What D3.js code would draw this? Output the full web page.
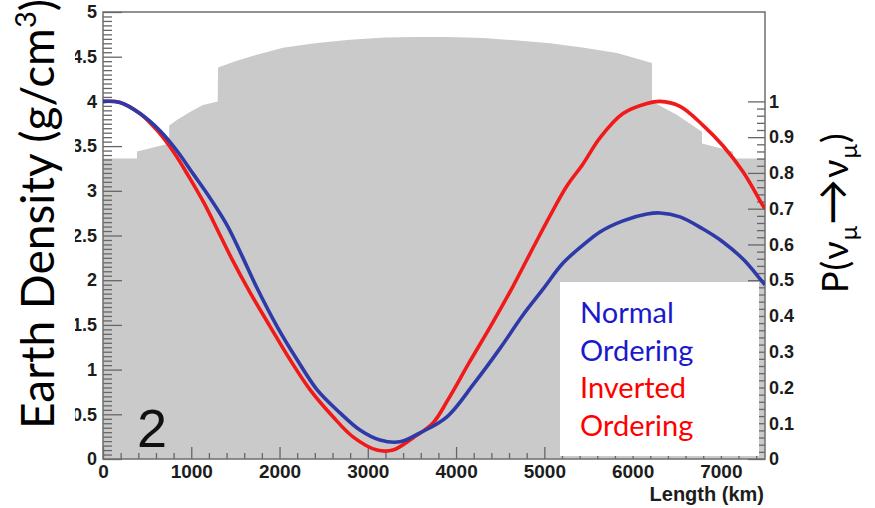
<!DOCTYPE html>
<html>
<head>
<meta charset="utf-8">
<script src="https://cdn.jsdelivr.net/npm/d3@7"></script>
<style>
  html, body { margin: 0; padding: 0; background: #fff; }
  svg { display: block; }
</style>
</head>
<body>
<svg id="chart" width="875" height="508"></svg>
<script>
// ---------------- DATA ----------------
// Earth density profile along the baseline (km, g/cm^3)
const densityKm  = [0, 385, 385, 750, 750, 850, 1000, 1133, 1300, 1303, 1500, 1665, 2039, 2400, 2798, 3200, 3557, 3900, 4305, 4700, 5064, 5450, 5823, 6220, 6220, 6500, 6786, 6786, 7137, 7137, 7500];
const densityVal = [3.36, 3.36, 3.44, 3.53, 3.73, 3.80, 3.89, 3.96, 4.00, 4.38, 4.45, 4.50, 4.60, 4.65, 4.69, 4.715, 4.72, 4.72, 4.71, 4.68, 4.65, 4.60, 4.54, 4.43, 4.00, 3.85, 3.66, 3.53, 3.44, 3.36, 3.36];

// Survival probability, Normal Ordering
const normalKm = [0, 193, 419, 646, 838, 1020, 1212, 1405, 1575, 1745, 1971, 2198, 2424, 2685, 2911, 3138, 3365, 3591, 3897, 4200, 4500, 4750, 4985, 5212, 5438, 5630, 5891, 6163, 6310, 6537, 6798, 7024, 7251, 7466, 7500];
const normalP  = [1.000, 0.997, 0.966, 0.918, 0.862, 0.798, 0.730, 0.654, 0.568, 0.478, 0.371, 0.278, 0.194, 0.129, 0.081, 0.053, 0.048, 0.073, 0.118, 0.210, 0.310, 0.400, 0.475, 0.548, 0.598, 0.635, 0.666, 0.685, 0.688, 0.677, 0.643, 0.607, 0.559, 0.497, 0.487];

// Survival probability, Inverted Ordering
const invertedKm = [0, 193, 419, 623, 804, 974, 1144, 1314, 1461, 1665, 1892, 2118, 2345, 2606, 2832, 3104, 3285, 3512, 3739, 3909, 4150, 4400, 4645, 4871, 5064, 5257, 5438, 5630, 5891, 6163, 6310, 6537, 6798, 7024, 7251, 7478, 7500];
const invertedP  = [1.000, 0.997, 0.966, 0.916, 0.857, 0.789, 0.716, 0.632, 0.559, 0.466, 0.371, 0.278, 0.194, 0.118, 0.062, 0.025, 0.025, 0.059, 0.101, 0.166, 0.270, 0.375, 0.483, 0.590, 0.680, 0.764, 0.825, 0.898, 0.966, 0.994, 1.000, 0.986, 0.933, 0.876, 0.803, 0.708, 0.700];

// Tick values
const xMajorTicks = [0, 1000, 2000, 3000, 4000, 5000, 6000, 7000];
const densityTicks = [0, 0.5, 1, 1.5, 2, 2.5, 3, 3.5, 4, 4.5, 5];
const probTicks = [0, 0.1, 0.2, 0.3, 0.4, 0.5, 0.6, 0.7, 0.8, 0.9, 1];
const legendLines = [
  { text: "Normal",   series: "normal" },
  { text: "Ordering", series: "normal" },
  { text: "Inverted", series: "inverted" },
  { text: "Ordering", series: "inverted" }
];

// ---------------- LAYOUT ----------------
const L = 103, R = 765, T = 12, B = 459;
const colors = { normal: "#2e3aa8", inverted: "#f01a1a", normalText: "#1a1acc", invertedText: "#ff0000", fill: "#cacaca", frame: "#6e6e6e" };

const svg = d3.select("#chart");
const x  = d3.scaleLinear().domain([0, 7500]).range([L, R]);
const yD = d3.scaleLinear().domain([0, 5]).range([B, T]);
const yP = d3.scaleLinear().domain([0, 1]).range([B, yD(4)]);

const defs = svg.append("defs");
defs.append("clipPath").attr("id", "plotclip")
  .append("rect").attr("x", L).attr("y", T).attr("width", R - L).attr("height", B - T);
defs.append("clipPath").attr("id", "leftclip")
  .append("rect").attr("x", 75).attr("y", 0).attr("width", 875).attr("height", 508);

// density area
const densData = densityKm.map((k, i) => ({ k, v: densityVal[i] }));
svg.append("path")
  .datum(densData)
  .attr("clip-path", "url(#plotclip)")
  .attr("fill", colors.fill)
  .attr("d", d3.area().x(d => x(d.k)).y0(B).y1(d => yD(d.v)).curve(d3.curveLinear));

function styleAxis(g, withLabels, size) {
  g.select(".domain").remove();
  g.selectAll(".tick line").attr("stroke", "#666").attr("stroke-width", 1.3);
  if (!withLabels) g.selectAll(".tick text").remove();
  g.selectAll(".tick text")
    .attr("fill", "#1c1c1c")
    .attr("font-family", "'Liberation Sans', Arial, Helvetica, sans-serif")
    .attr("font-weight", "bold")
    .attr("font-size", size || 18);
}

// X axis minor + major
const xMinor = d3.range(0, 7501, 200).filter(v => v % 1000 !== 0);
svg.append("g").attr("transform", `translate(0,${B})`)
  .call(d3.axisBottom(x).tickValues(xMinor).tickSize(-6).tickFormat(""))
  .call(g => styleAxis(g, false));
svg.append("g").attr("transform", `translate(0,${B})`)
  .call(d3.axisBottom(x).tickValues(xMajorTicks).tickSize(-12).tickPadding(6).tickFormat(d3.format("d")))
  .call(g => styleAxis(g, true, 19));

// Left axis
const yMinor = d3.range(0, 101).map(i => i * 0.05).filter(v => Math.abs(v * 2 - Math.round(v * 2)) > 1e-6);
svg.append("g").attr("transform", `translate(${L},0)`)
  .call(d3.axisLeft(yD).tickValues(yMinor).tickSize(-9).tickFormat(""))
  .call(g => styleAxis(g, false));
svg.append("g").attr("clip-path", "url(#leftclip)")
  .append("g").attr("transform", `translate(${L},0)`)
  .call(d3.axisLeft(yD).tickValues(densityTicks).tickSize(-19).tickPadding(6).tickFormat(d3.format("~g")))
  .call(g => styleAxis(g, true, 18));

// Right axis
const pMinor = d3.range(0, 51).map(i => i / 50).filter(v => Math.abs(v * 10 - Math.round(v * 10)) > 1e-6);
svg.append("g").attr("transform", `translate(${R},0)`)
  .call(d3.axisRight(yP).tickValues(pMinor).tickSize(-8).tickFormat(""))
  .call(g => styleAxis(g, false));
svg.append("g").attr("transform", `translate(${R},0)`)
  .call(d3.axisRight(yP).tickValues(probTicks).tickSize(-17).tickPadding(4).tickFormat(d3.format("~g")))
  .call(g => styleAxis(g, true, 18));

// Frame
svg.append("rect").attr("x", L).attr("y", T).attr("width", R - L).attr("height", B - T)
  .attr("fill", "none").attr("stroke", colors.frame).attr("stroke-width", 1.5);

// curves
const line = d3.line().x(d => x(d.k)).y(d => yP(d.p)).curve(d3.curveCatmullRom.alpha(0.5));
const invData = invertedKm.map((k, i) => ({ k, p: invertedP[i] }));
const norData = normalKm.map((k, i) => ({ k, p: normalP[i] }));
const curves = svg.append("g").attr("clip-path", "url(#plotclip)");
curves.append("path").datum(invData).attr("fill", "none").attr("stroke", colors.inverted)
  .attr("stroke-width", 3.6).attr("stroke-linejoin", "round").attr("d", line);
curves.append("path").datum(norData).attr("fill", "none").attr("stroke", colors.normal)
  .attr("stroke-width", 3.6).attr("stroke-linejoin", "round").attr("d", line);

// Legend box
svg.append("rect").attr("x", 560).attr("y", 282).attr("width", 199).attr("height", 174).attr("fill", "#fff");
svg.append("g").selectAll("text").data(legendLines).join("text")
  .attr("x", 580)
  .attr("y", (d, i) => 323 + i * 37.5)
  .attr("font-family", "Lato, 'Open Sans', sans-serif")
  .attr("font-size", 29)
  .attr("fill", d => d.series === "normal" ? colors.normalText : colors.invertedText)
  .text(d => d.text);

// panel label "2"
svg.append("text").attr("x", 137).attr("y", 447)
  .attr("font-family", "'Liberation Sans', Arial, sans-serif").attr("font-size", 54)
  .attr("fill", "#111").text("2");

// x-axis title
svg.append("text").attr("x", 764).attr("y", 501).attr("text-anchor", "end")
  .attr("font-family", "'Liberation Sans', Arial, sans-serif").attr("font-weight", "bold")
  .attr("font-size", 20).attr("fill", "#1c1c1c").text("Length (km)");

// Left title
const lt = svg.append("text")
  .attr("transform", "translate(54,429) rotate(-90)")
  .attr("font-family", "Lato, 'Open Sans', sans-serif")
  .attr("font-size", 46).attr("fill", "#000");
lt.append("tspan").text("Earth Density (g/cm");
lt.append("tspan").attr("dy", -18).attr("font-size", 29).text("3");
lt.append("tspan").attr("dy", 18).text(")");

// Right title
const rt = svg.append("text")
  .attr("transform", "translate(848,293) rotate(-90)")
  .attr("font-family", "Lato, 'Noto Sans', 'DejaVu Sans', sans-serif")
  .attr("font-size", 36).attr("fill", "#000").attr("letter-spacing", 1);
rt.append("tspan").text("P(ν");
rt.append("tspan").attr("dy", 9).attr("font-size", 24).text("μ");
rt.append("tspan").attr("dy", -9).attr("font-size", 46).text("→");
rt.append("tspan").attr("font-size", 36).text("ν");
rt.append("tspan").attr("dy", 9).attr("font-size", 24).text("μ");
rt.append("tspan").attr("dy", -9).attr("font-size", 36).text(")");
</script>
</body>
</html>
